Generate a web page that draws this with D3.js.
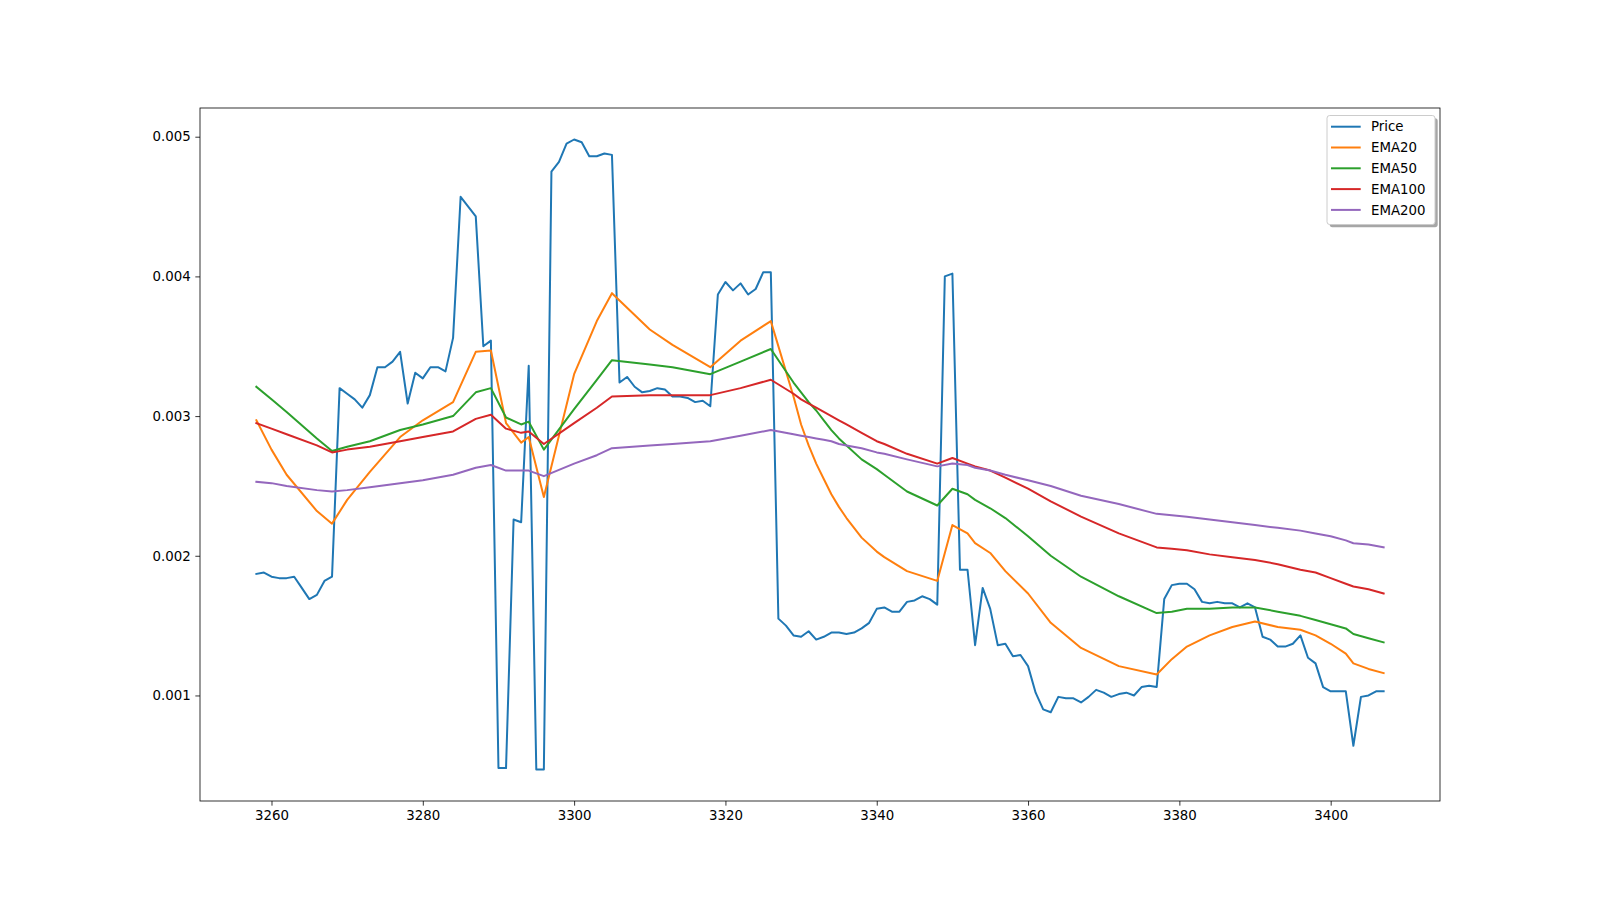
<!DOCTYPE html>
<html>
<head>
<meta charset="utf-8">
<script src="https://cdn.jsdelivr.net/npm/d3@7"></script>
<style>
  html, body { margin: 0; padding: 0; background: #fff; }
  svg { display: block; }
  text { font-family: "DejaVu Sans", sans-serif; font-size: 13.33px; fill: #000; }
</style>
</head>
<body>
<svg id="chart" width="1600" height="900"></svg>
<script>
// ---------------- DATA ----------------
const priceStartX = 3258;
const price = [
  0.00187, 0.00188, 0.00185, 0.00184, 0.00184, 0.00185, 0.00177, 0.00169, 0.00172, 0.00182,
  0.00185, 0.00320, 0.00316, 0.00312, 0.00306, 0.00315, 0.00335, 0.00335, 0.00339, 0.00346,
  0.00309, 0.00331, 0.00327, 0.00335, 0.00335, 0.00332, 0.00356, 0.00457, 0.00450, 0.00443,
  0.00350, 0.00354, 0.00048, 0.00048, 0.00226, 0.00224, 0.00336, 0.00047, 0.00047, 0.00475,
  0.00482, 0.00495, 0.00498, 0.00496, 0.00486, 0.00486, 0.00488, 0.00487, 0.00324, 0.00328,
  0.00321, 0.00317, 0.00318, 0.00320, 0.00319, 0.00314, 0.00314, 0.00313, 0.00310, 0.00311,
  0.00307, 0.00387, 0.00396, 0.00390, 0.00395, 0.00387, 0.00391, 0.00403, 0.00403, 0.00155,
  0.00150, 0.00143, 0.00142, 0.00146, 0.00140, 0.00142, 0.00145, 0.00145, 0.00144, 0.00145,
  0.00148, 0.00152, 0.00162, 0.00163, 0.00160, 0.00160, 0.00167, 0.00168, 0.00171, 0.00169,
  0.00165, 0.00400, 0.00402, 0.00190, 0.00190, 0.00136, 0.00177, 0.00162, 0.00136, 0.00137,
  0.00128, 0.00129, 0.00121, 0.00102, 0.00090, 0.00088, 0.00099, 0.00098, 0.00098, 0.00095,
  0.00099, 0.00104, 0.00102, 0.00099, 0.00101, 0.00102, 0.00100, 0.00106, 0.00107, 0.00106,
  0.00169, 0.00179, 0.00180, 0.00180, 0.00176, 0.00167, 0.00166, 0.00167, 0.00166, 0.00166,
  0.00163, 0.00166, 0.00163, 0.00142, 0.00140, 0.00135, 0.00135, 0.00137, 0.00143, 0.00127,
  0.00123, 0.00106, 0.00103, 0.00103, 0.00103, 0.00064, 0.00099, 0.00100, 0.00103, 0.00103
];

const emaX = [3258, 3260, 3262, 3266, 3268, 3270, 3273, 3277, 3280, 3284,
  3287, 3289, 3291, 3293, 3294, 3296, 3300, 3303, 3305, 3310,
  3313, 3318, 3322, 3326, 3329, 3330, 3331, 3332, 3333, 3334,
  3335, 3336, 3338, 3340, 3341, 3344, 3348, 3350, 3352, 3353,
  3355, 3357, 3360, 3363, 3367, 3372, 3377, 3379, 3381, 3384,
  3387, 3390, 3393, 3396, 3398, 3400, 3402, 3403, 3405, 3407];

const ema20 = [0.00297, 0.00276, 0.00258, 0.00232, 0.00223, 0.00240, 0.00260, 0.00285, 0.00297, 0.00310,
  0.00346, 0.00347, 0.00295, 0.00281, 0.00285, 0.00242, 0.00330, 0.00368, 0.00388, 0.00362,
  0.00351, 0.00335, 0.00354, 0.00368, 0.00314, 0.00294, 0.00279, 0.00266, 0.00255, 0.00244,
  0.00235, 0.00227, 0.00213, 0.00203, 0.00199, 0.00189, 0.00182, 0.00222, 0.00216, 0.00209,
  0.00202, 0.00189, 0.00173, 0.00152, 0.00134, 0.00121, 0.00115, 0.00126, 0.00135, 0.00143,
  0.00149, 0.00153, 0.00149, 0.00147, 0.00143, 0.00137, 0.00130, 0.00123, 0.00119, 0.00116];

const ema50 = [0.00321, 0.00312, 0.00303, 0.00284, 0.00275, 0.00278, 0.00282, 0.00290, 0.00294, 0.00300,
  0.00317, 0.00320, 0.00299, 0.00294, 0.00296, 0.00276, 0.00305, 0.00326, 0.00340, 0.00337,
  0.00335, 0.00330, 0.00339, 0.00348, 0.00324, 0.00317, 0.00310, 0.00304, 0.00297, 0.00290,
  0.00284, 0.00279, 0.00269, 0.00262, 0.00258, 0.00246, 0.00236, 0.00248, 0.00244, 0.00240,
  0.00234, 0.00227, 0.00214, 0.00200, 0.00185, 0.00171, 0.00159, 0.00160, 0.00162, 0.00162,
  0.00163, 0.00163, 0.00160, 0.00157, 0.00154, 0.00151, 0.00148, 0.00144, 0.00141, 0.00138];

const ema100 = [0.00295, 0.00291, 0.00287, 0.00279, 0.00274, 0.00276, 0.00278, 0.00282, 0.00285, 0.00289,
  0.00298, 0.00301, 0.00291, 0.00288, 0.00289, 0.00280, 0.00295, 0.00306, 0.00314, 0.00315,
  0.00315, 0.00315, 0.00320, 0.00326, 0.00316, 0.00312, 0.00309, 0.00306, 0.00303, 0.00300,
  0.00297, 0.00294, 0.00288, 0.00282, 0.00280, 0.00273, 0.00266, 0.00270, 0.00266, 0.00264,
  0.00261, 0.00256, 0.00248, 0.00239, 0.00228, 0.00216, 0.00206, 0.00205, 0.00204, 0.00201,
  0.00199, 0.00197, 0.00194, 0.00190, 0.00188, 0.00184, 0.00180, 0.00178, 0.00176, 0.00173];

const ema200 = [0.00253, 0.00252, 0.00250, 0.00247, 0.00246, 0.00247, 0.00249, 0.00252, 0.00254, 0.00258,
  0.00263, 0.00265, 0.00261, 0.00261, 0.00261, 0.00257, 0.00266, 0.00272, 0.00277, 0.00279,
  0.00280, 0.00282, 0.00286, 0.00290, 0.00287, 0.00286, 0.00285, 0.00284, 0.00283, 0.00282,
  0.00280, 0.00279, 0.00277, 0.00274, 0.00273, 0.00269, 0.00264, 0.00266, 0.00265, 0.00263,
  0.00261, 0.00258, 0.00254, 0.00250, 0.00243, 0.00237, 0.00230, 0.00229, 0.00228, 0.00226,
  0.00224, 0.00222, 0.00220, 0.00218, 0.00216, 0.00214, 0.00211, 0.00209, 0.00208, 0.00206];

const xTicks = [3260, 3280, 3300, 3320, 3340, 3360, 3380, 3400];
const yTicks = [0.001, 0.002, 0.003, 0.004, 0.005];
const seriesNames = ["Price", "EMA20", "EMA50", "EMA100", "EMA200"];
const seriesColors = ["#1f77b4", "#ff7f0e", "#2ca02c", "#d62728", "#9467bd"];

// ---------------- CHART ----------------
const svg = d3.select("#chart");
const L = 200, R = 1440, T = 108, B = 801;

const priceX = price.map((_, i) => priceStartX + i);
const series = [
  price.map((v, i) => [priceX[i], v]),
  ema20.map((v, i) => [emaX[i], v]),
  ema50.map((v, i) => [emaX[i], v]),
  ema100.map((v, i) => [emaX[i], v]),
  ema200.map((v, i) => [emaX[i], v])
];

const allX = series.flat().map(d => d[0]);
const allY = series.flat().map(d => d[1]);
const [x0, x1] = d3.extent(allX);
const [y0, y1] = d3.extent(allY);
const xp = (x1 - x0) * 0.05, yp = (y1 - y0) * 0.05;

const x = d3.scaleLinear().domain([x0 - xp, x1 + xp]).range([L, R]);
const y = d3.scaleLinear().domain([y0 - yp, y1 + yp]).range([B, T]);

const line = d3.line().x(d => x(d[0])).y(d => y(d[1]));

const plot = svg.append("g");
series.forEach((s, i) => {
  plot.append("path")
    .datum(s)
    .attr("d", line)
    .attr("fill", "none")
    .attr("stroke", seriesColors[i])
    .attr("stroke-width", 2)
    .attr("stroke-linejoin", "round")
    .attr("stroke-linecap", "square");
});

// axes
const tickLen = 4.67;
const xAxis = d3.axisBottom(x).tickValues(xTicks).tickFormat(d3.format("d"))
  .tickSize(tickLen).tickSizeOuter(0).tickPadding(4.67);
const yAxis = d3.axisLeft(y).tickValues(yTicks).tickFormat(d3.format(".3f"))
  .tickSize(tickLen).tickSizeOuter(0).tickPadding(4.67);

const gx = svg.append("g").attr("transform", `translate(0,${B})`).call(xAxis);
const gy = svg.append("g").attr("transform", `translate(${L},0)`).call(yAxis);
[gx, gy].forEach(g => {
  g.select(".domain").remove();
  g.selectAll(".tick line").attr("stroke", "#000").attr("stroke-width", 0.8);
  g.selectAll(".tick text").attr("font-family", "DejaVu Sans").attr("font-size", "13.33px").attr("fill", "#000");
});

// frame
svg.append("rect")
  .attr("x", L).attr("y", T).attr("width", R - L).attr("height", B - T)
  .attr("fill", "none").attr("stroke", "#000").attr("stroke-width", 0.8);

// legend
const lg = svg.append("g");
const lx = 1327, ly = 115.5, lw = 108, lh = 109;
lg.append("rect").attr("x", lx + 2.7).attr("y", ly + 2.7).attr("width", lw).attr("height", lh)
  .attr("rx", 2.7).attr("fill", "#000").attr("opacity", 0.35);
lg.append("rect").attr("x", lx).attr("y", ly).attr("width", lw).attr("height", lh)
  .attr("rx", 2.7).attr("fill", "#fff").attr("stroke", "#cccccc").attr("stroke-width", 1);
seriesNames.forEach((name, i) => {
  const cy = 126.7 + i * 20.8;
  lg.append("line").attr("x1", 1331).attr("x2", 1360.7).attr("y1", cy).attr("y2", cy)
    .attr("stroke", seriesColors[i]).attr("stroke-width", 2);
  lg.append("text").attr("x", 1371).attr("y", cy).attr("dy", "0.36em").text(name);
});
</script>
</body>
</html>
